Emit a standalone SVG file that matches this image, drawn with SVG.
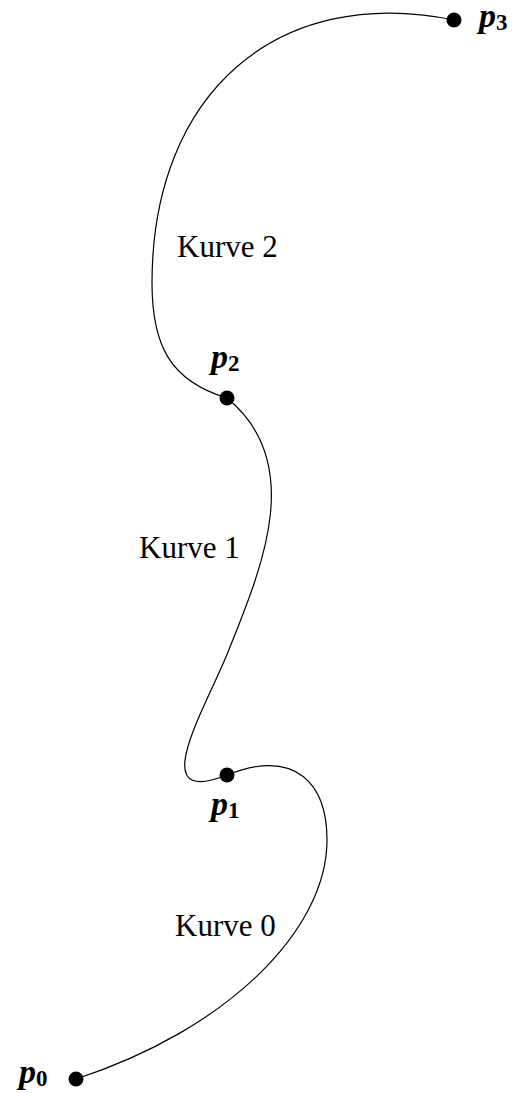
<svg xmlns="http://www.w3.org/2000/svg" width="528" height="1093" viewBox="0 0 528 1093">
  <style>
    .curve { fill: none; stroke: #000; stroke-width: 1.2; }
    .dot { fill: #000; }
    .lbl { font-family: "Liberation Serif", "Times New Roman", serif; font-size: 31px; fill: #000; }
    .pt { font-family: "Liberation Serif", "Times New Roman", serif; font-size: 34px; font-style: italic; font-weight: bold; fill: #000; }
    .sub { font-size: 23px; font-style: normal; font-weight: bold; }
  </style>

  <!-- spline segments between the control points -->
  <g id="connectors">
    <path id="kurve0" class="curve" d="M76,1079 C228,1029.4 327,930 327,840 C327,785 296.8,747.3 227,775"/>
    <path id="kurve1" class="curve" d="M227,775 C143.3,808.3 205.9,707.7 228,652 C259.5,572.7 308,464 227,398"/>
    <path id="kurve2" class="curve" d="M227,398 C170,381 152,345 152,283 C152,93 277.6,-16 454,20"/>
  </g>

  <!-- curve labels -->
  <g id="label-kurve0"><text class="lbl" x="175" y="936">Kurve 0</text></g>
  <g id="label-kurve1"><text class="lbl" x="139" y="558">Kurve 1</text></g>
  <g id="label-kurve2"><text class="lbl" x="177" y="257">Kurve 2</text></g>

  <!-- control points -->
  <g id="p0">
    <circle class="dot" cx="76" cy="1079" r="7.5"/>
    <text class="pt" x="19" y="1083">p<tspan class="sub" dy="3">0</tspan></text>
  </g>
  <g id="p1">
    <circle class="dot" cx="227" cy="775" r="7.5"/>
    <text class="pt" x="211" y="815">p<tspan class="sub" dy="3">1</tspan></text>
  </g>
  <g id="p2">
    <circle class="dot" cx="227" cy="398" r="7.5"/>
    <text class="pt" x="211" y="368">p<tspan class="sub" dy="3">2</tspan></text>
  </g>
  <g id="p3">
    <circle class="dot" cx="454" cy="20" r="7.5"/>
    <text class="pt" x="479" y="27">p<tspan class="sub" dy="3">3</tspan></text>
  </g>
</svg>
